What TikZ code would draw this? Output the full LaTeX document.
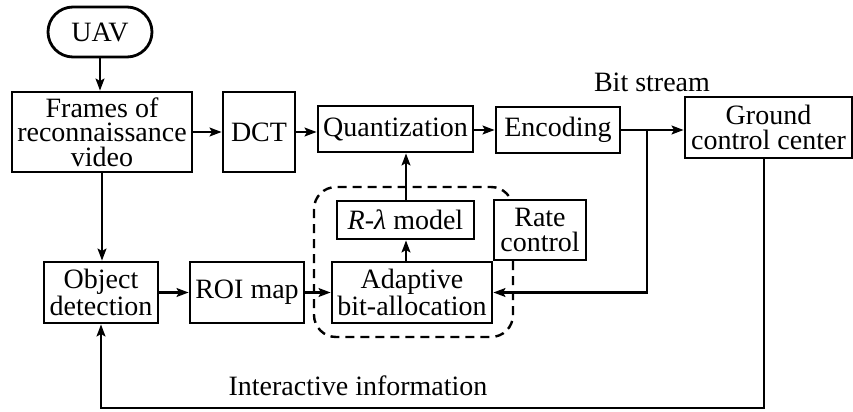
\documentclass[tikz,border=0pt]{standalone}
\usepackage{fontspec}
\setmainfont{Liberation Serif}
\usetikzlibrary{arrows.meta}
\begin{document}
\begin{tikzpicture}[x=0.5pt,y=-0.5pt,
  box/.style={draw,line width=1.4pt,inner sep=0pt,align=center,fill=white,
    font=\fontsize{14}{12.3}\selectfont},
  lbl/.style={inner sep=0pt,font=\fontsize{14}{12.3}\selectfont},
  conn/.style={line width=1.15pt,-{Stealth[length=6pt,width=4.4pt,inset=1.2pt]}},
  region/.style={line width=1.2pt,dash pattern=on 4.5pt off 3pt,rounded corners=11pt}]
\useasboundingbox (0,0) rectangle (853,412);
% dashed region (rate control)
\draw[region] (314,187) rectangle (513,337);
% nodes
\node[box,minimum width=52pt,minimum height=25pt,rounded corners=12.5pt] (uav) at (100,32) {UAV};
\node[box,minimum width=90pt,minimum height=40pt] (frames) at (102,132) {Frames of\\reconnaissance\\video};
\node[box,minimum width=36pt,minimum height=40pt] (dct) at (259,132) {DCT};
\node[box,minimum width=77.5pt,minimum height=23pt] (quant) at (395.5,129) {Quantization};
\node[box,minimum width=62pt,minimum height=23pt] (enc) at (558,130) {Encoding};
\node[box,minimum width=83.5pt,minimum height=30.5pt] (ground) at (768.5,127.5) {Ground\\control center};
\node[box,minimum width=57pt,minimum height=30.5pt] (objdet) at (101,292.5) {Object\\detection};
\node[box,minimum width=57pt,minimum height=30.5pt] (roi) at (247,292.5) {ROI map};
\node[box,minimum width=80pt,minimum height=30.5pt] (adapt) at (412,292.5) {Adaptive\\bit-allocation};
\node[box,minimum width=68.5pt,minimum height=19pt] (rlam) at (405.5,220) {\textit{R}-\textit{λ} model};
\node[box,minimum width=46pt,minimum height=30pt] (rate) at (540,230) {Rate\\control};
\node[lbl] (bs) at (652,82) {Bit stream};
\node[lbl] (ii) at (358,386) {Interactive information};
% helper coordinates
\coordinate (j) at (647,0);
\coordinate (m) at (406,0);
\coordinate (g) at (764,0);
\coordinate (b) at (0,408);
% connectors
\draw[conn] (uav.south) -- (uav.south |- frames.north);
\draw[conn] (frames.east |- dct.west) -- (dct.west);
\draw[conn] (dct.east) -- (dct.east -| quant.west);
\draw[conn] (enc.west -| quant.east) -- (enc.west);
\draw[conn] (enc.east) -- (enc.east -| ground.west);
\draw[conn] (enc.east -| j) -- (j |- adapt.east) -- (adapt.east);
\draw[conn] (frames.south) -- (frames.south |- objdet.north);
\draw[conn] (objdet.east) -- (roi.west);
\draw[conn] (roi.east) -- (adapt.west);
\draw[conn] (adapt.north -| m) -- (rlam.south -| m);
\draw[conn] (rlam.north -| m) -- (quant.south -| m);
\draw[conn] (ground.south -| g) -- (g |- b) -- (objdet.south |- b) -- (objdet.south);
\end{tikzpicture}
\end{document}
